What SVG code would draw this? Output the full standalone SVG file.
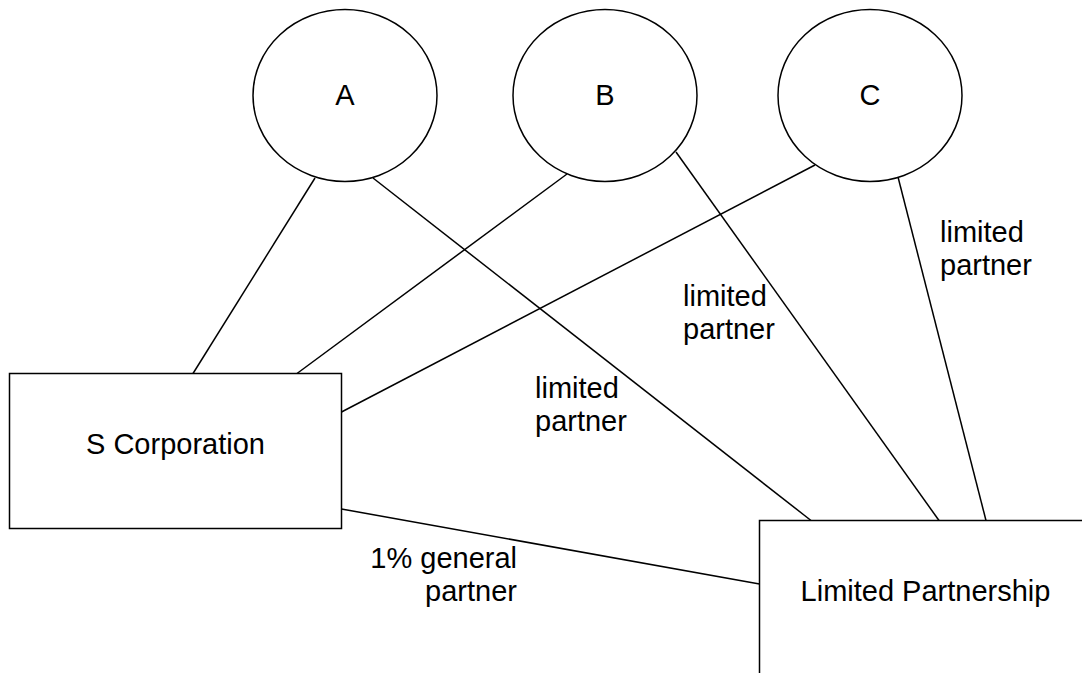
<svg xmlns="http://www.w3.org/2000/svg" width="1082" height="673" viewBox="0 0 1082 673">
<style>
.shape{fill:#ffffff;stroke:#000000;stroke-width:1.5}
.edge{stroke:#000000;stroke-width:1.5;fill:none}
.t{font-family:"Liberation Sans",Arial,sans-serif;font-size:29px;fill:#000000}
.c{text-anchor:middle}
.r{text-anchor:end}
</style>
<rect x="0" y="0" width="1082" height="673" fill="#ffffff"/>
<g id="connectors">
<line class="edge" x1="315" y1="178" x2="193" y2="373.5"/>
<line class="edge" x1="373" y1="178" x2="811" y2="520.5"/>
<line class="edge" x1="567" y1="174" x2="297" y2="373.5"/>
<line class="edge" x1="676" y1="152" x2="939" y2="520.5"/>
<line class="edge" x1="815" y1="165" x2="341.5" y2="412"/>
<line class="edge" x1="898" y1="177" x2="986" y2="520.5"/>
<line class="edge" x1="341.5" y1="509" x2="759.5" y2="584"/>
<text class="t" x="535" y="398">limited</text>
<text class="t" x="535" y="431">partner</text>
<text class="t" x="683" y="306">limited</text>
<text class="t" x="683" y="339">partner</text>
<text class="t" x="940" y="242">limited</text>
<text class="t" x="940" y="275">partner</text>
<text class="t r" x="517" y="568">1% general</text>
<text class="t r" x="517" y="601">partner</text>
</g>
<g id="node-A">
<ellipse class="shape" cx="345" cy="95.5" rx="92" ry="86"/>
<text class="t c" x="345" y="105">A</text>
</g>
<g id="node-B">
<ellipse class="shape" cx="605" cy="95.5" rx="92" ry="86"/>
<text class="t c" x="605" y="105">B</text>
</g>
<g id="node-C">
<ellipse class="shape" cx="870" cy="95.5" rx="92" ry="86"/>
<text class="t c" x="870" y="105">C</text>
</g>
<g id="node-scorp">
<rect class="shape" x="9.5" y="373.5" width="332" height="155"/>
<text class="t c" x="175.5" y="454">S Corporation</text>
</g>
<g id="node-lp">
<rect class="shape" x="759.5" y="520.5" width="332" height="155"/>
<text class="t c" x="925.5" y="601">Limited Partnership</text>
</g>
</svg>
